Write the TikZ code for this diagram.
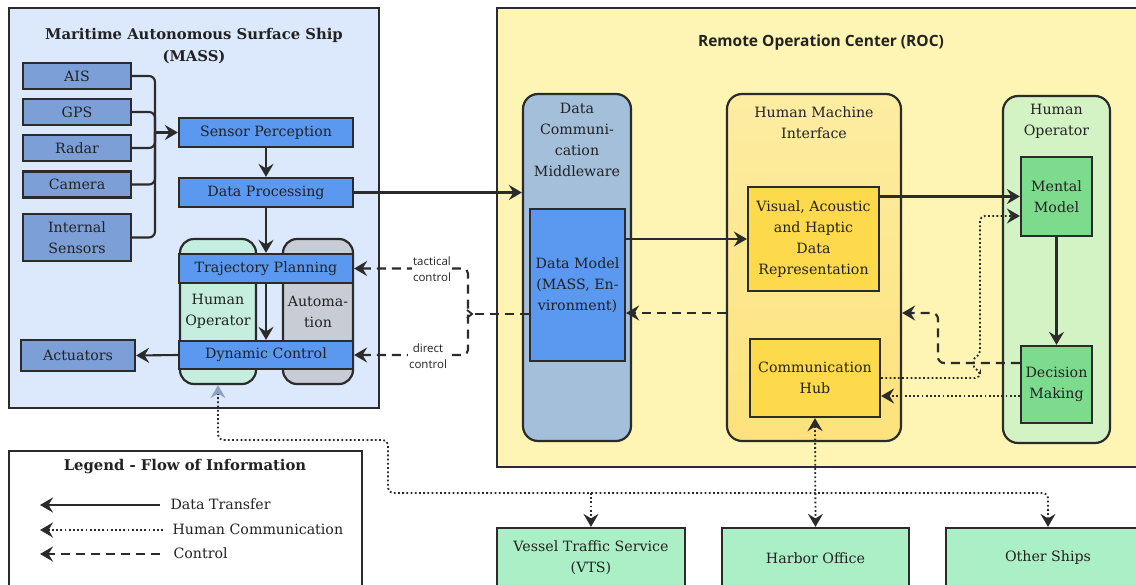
\documentclass[tikz,border=0pt]{standalone}
\usepackage{fontspec}
\setmainfont{DejaVu Serif}
\newfontfamily\labsans{Open Sans}
\usetikzlibrary{arrows.meta,calc}
\definecolor{massbg}{HTML}{DCE8FC}
\definecolor{sensorc}{HTML}{7C9FD8}
\definecolor{bluec}{HTML}{5B98EF}
\definecolor{mintc}{HTML}{C5EEDF}
\definecolor{autoc}{HTML}{C8CCD4}
\definecolor{rocbg}{HTML}{FEF4B4}
\definecolor{dcmc}{HTML}{A3BFDA}
\definecolor{hmitop}{HTML}{FDEDA2}
\definecolor{hmibot}{HTML}{FDE27C}
\definecolor{goldc}{HTML}{FDD94C}
\definecolor{hogreen}{HTML}{D4F3C4}
\definecolor{mgreen}{HTML}{7DDB8E}
\definecolor{extgreen}{HTML}{ABEFC6}
\definecolor{linec}{HTML}{2B2B2B}
\definecolor{textc}{HTML}{222222}
\definecolor{arrblue}{HTML}{8EA2C0}
\begin{document}
\begin{tikzpicture}[x=1pt,y=-1pt,
  txt/.style={font=\fontsize{14.2}{21}\selectfont, text=textc, align=center},
  box/.style={draw=linec, line width=2.2pt, inner sep=0pt, txt},
  cont/.style={box, rounded corners=15pt},
  arr/.style={draw=linec, line width=2.1pt, -{Stealth[length=13pt,width=15pt,inset=4.5pt]}},
  biarr/.style={draw=linec, line width=2.1pt, {Stealth[length=13pt,width=15pt,inset=4.5pt]}-{Stealth[length=13pt,width=15pt,inset=4.5pt]}},
  ctrlline/.style={dash pattern=on 9pt off 6pt},
  humline/.style={line width=1.8pt, dash pattern=on 1.8pt off 2.4pt},
  sanslab/.style={font=\labsans\fontsize{11.5}{16}\selectfont, text=textc, align=center, fill=white, inner sep=1pt},
  boldtitle/.style={font=\bfseries\fontsize{14.8}{21.5}\selectfont, text=textc, align=center}
]
\useasboundingbox (0,0) rectangle (1136,585);
\clip (0,0) rectangle (1136,585);
\fill[white] (0,0) rectangle (1136,585);

% ---------- MASS ----------
\node[box, fill=massbg, minimum width=370pt, minimum height=400pt] (mass) at (194,208) {};
\node[boldtitle] (masst) at (194,46) {Maritime Autonomous Surface Ship\\(MASS)};

\node[box, fill=sensorc, minimum width=108pt, minimum height=26pt] (ais) at (77,76) {AIS};
\node[box, fill=sensorc, minimum width=108pt, minimum height=26pt] (gps) at (77,112) {GPS};
\node[box, fill=sensorc, minimum width=108pt, minimum height=26pt] (radar) at (77,148) {Radar};
\node[box, fill=sensorc, minimum width=108pt, minimum height=26pt] (cam) at (77,184.5) {Camera};
\node[box, fill=sensorc, minimum width=108pt, minimum height=47pt] (ints) at (77,237.5) {Internal\\Sensors};

\node[box, fill=bluec, minimum width=174pt, minimum height=29pt] (sp) at (266,132.5) {Sensor Perception};
\node[box, fill=bluec, minimum width=174pt, minimum height=29pt] (dp) at (266,192.5) {Data Processing};

\node[box, fill=mintc, rounded corners=14pt, minimum width=76pt, minimum height=145pt] (hom) at (218,311.5) {Human\\Operator};
\node[box, fill=autoc, rounded corners=14pt, minimum width=70pt, minimum height=145pt] (aut) at (318,311.5) {Automa-\\tion};
\node[box, fill=bluec, minimum width=174pt, minimum height=29pt] (tp) at (266,268.5) {Trajectory Planning};
\node[box, fill=bluec, minimum width=174pt, minimum height=28pt] (dc) at (266,355) {Dynamic Control};
\node[box, fill=sensorc, minimum width=114pt, minimum height=31pt] (act) at (78,355.5) {Actuators};

% ---------- ROC ----------
\node[box, fill=rocbg, minimum width=660pt, minimum height=459pt] (roc) at (827,237.5) {};
\node[font=\labsans\bfseries\fontsize{15.5}{20}\selectfont, text=textc] (roct) at (821,42) {Remote Operation Center (ROC)};

\node[cont, fill=dcmc, minimum width=108pt, minimum height=347pt] (dcm) at (577,267.5) {};
\node[txt] (dcmt) at (577,140) {Data\\Communi-\\cation\\Middleware};
\node[box, fill=bluec, minimum width=95pt, minimum height=152pt] (dm) at (577.5,285) {Data Model\\(MASS, En-\\vironment)};

\node[cont, top color=hmitop, bottom color=hmibot, minimum width=174pt, minimum height=347pt] (hmi) at (814,267.5) {};
\node[txt] (hmit) at (814,123) {Human Machine\\Interface};
\node[box, fill=goldc, minimum width=131pt, minimum height=104pt] (vis) at (813.5,239) {Visual, Acoustic\\and Haptic\\Data\\Representation};
\node[box, fill=goldc, minimum width=130pt, minimum height=78pt] (ch) at (815,378) {Communication\\Hub};

\node[cont, fill=hogreen, minimum width=107pt, minimum height=347pt] (hor) at (1056.5,269.5) {};
\node[txt] (hort) at (1056.5,121.5) {Human\\Operator};
\node[box, fill=mgreen, minimum width=71pt, minimum height=79pt] (mm) at (1056.5,196.5) {Mental\\Model};
\node[box, fill=mgreen, minimum width=71pt, minimum height=77pt] (dec) at (1056.5,384.5) {Decision\\Making};

% ---------- external ----------
\node[box, fill=extgreen, minimum width=188pt, minimum height=60pt] (vts) at (591,558) {Vessel Traffic Service\\(VTS)};
\node[box, fill=extgreen, minimum width=187pt, minimum height=60pt] (hbo) at (815.5,558) {Harbor Office};
\node[box, fill=extgreen, minimum width=204pt, minimum height=60pt] (oth) at (1048,558) {Other Ships};

% ---------- legend ----------
\node[box, fill=white, minimum width=353pt, minimum height=160pt] (leg) at (185.5,531) {};
\node[boldtitle] (legt) at (185,467) {Legend - Flow of Information};

% ---------- coordinates ----------
\coordinate (bus) at (155,132.5);
\coordinate (y216) at (0,216);
\coordinate (y239) at (0,239);
\coordinate (y313) at (0,313);
\coordinate (y363) at (0,363);
\coordinate (y378) at (0,378);
\coordinate (y396) at (0,396);
\coordinate (junc) at (472,314);
\coordinate (vt) at (468,268.5);
\coordinate (vb) at (468,355);

% ---------- connectors: data ----------
\foreach \s in {ais,gps,radar,cam,ints}{
  \draw[linec, line width=2.1pt, rounded corners=6pt] (\s.east) -| (bus);
}
\draw[arr] (bus) -- (sp.west);
\draw[arr] (sp.south) -- (dp.north);
\draw[arr] (dp.south) -- (tp.north);
\draw[arr] (tp.south) -- (dc.north);
\draw[arr] (dc.west) -- (act.east);
\draw[arr] (dp.east) -- (dcm.west |- dp.east);
\draw[arr] (dm.east |- y239) -- (vis.west |- y239);
\draw[arr] (vis.east |- mm.west) -- (mm.west);
\draw[arr] (mm.south) -- (dec.north);

% ---------- connectors: control ----------
\draw[arr, ctrlline] (hmi.west |- y313) -- (dm.east |- y313);
\draw[linec, line width=2.1pt, ctrlline] (dm.west |- junc) -- (junc);
\draw[linec, line width=1.8pt] ($(junc)+(-5,-4)$) -- (junc) -- ($(junc)+(-5,4)$);
\draw[biarr, ctrlline, rounded corners=5pt] (tp.east) -- (vt) -- (vb) -- (dc.east);
\node[sanslab] (tacl) at (432,269) {tactical\\control};
\node[sanslab] (dirl) at (428,356) {direct\\control};
\draw[arr, ctrlline, rounded corners=6pt] (dec.west |- y363) -- (938,363) -- (938,313) -- (hmi.east |- y313);

% ---------- connectors: human communication ----------
\draw[arr, humline, rounded corners=5pt] (ch.east |- y378) -- (980,378) -- (980,370)
  .. controls (973,368) and (973,358) .. (980,356) -- (980,216) -- (mm.west |- y216);
\draw[arr, humline] (dec.west |- y396) -- (ch.east |- y396);
\draw[biarr, humline] (ch.south) -- (hbo.north);
\draw[humline, draw=linec, rounded corners=5pt,
  {Stealth[length=13pt,width=15pt,inset=4.5pt,color=arrblue]}-{Stealth[length=13pt,width=15pt,inset=4.5pt]}]
  (hom.south) -- (218,440) -- (388,440) -- (388,493) -- (1048,493) -- (oth.north);
\draw[arr, humline] (591,493) -- (vts.north);

% ---------- legend items ----------
\coordinate (l1a) at (160,505); \coordinate (l1b) at (40,505);
\coordinate (l2a) at (163,530); \coordinate (l2b) at (40,530);
\coordinate (l3a) at (160,554); \coordinate (l3b) at (40,554);
\draw[arr] (l1a) -- (l1b);
\draw[arr, humline] (l2a) -- (l2b);
\draw[arr, ctrlline] (l3a) -- (l3b);
\node[txt, anchor=west] (lt1) at (167,504) {Data Transfer};
\node[txt, anchor=west] (lt2) at (169,529) {Human Communication};
\node[txt, anchor=west] (lt3) at (170,553) {Control};
\end{tikzpicture}
\end{document}
